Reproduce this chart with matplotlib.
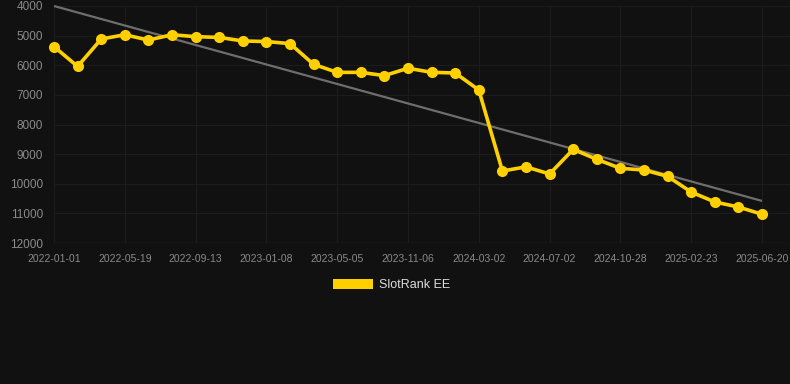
import matplotlib
matplotlib.use("Agg")
import matplotlib.pyplot as plt
from matplotlib.patches import Rectangle

# Data (category axis: 31 equally spaced observations, every 3rd labelled)
tick_labels = ["2022-01-01", "2022-05-19", "2022-09-13", "2023-01-08", "2023-05-05",
               "2023-11-06", "2024-03-02", "2024-07-02", "2024-10-28", "2025-02-23",
               "2025-06-20"]
rank_values = [5370, 6040, 5115, 4970, 5150, 4970, 5035, 5060, 5180, 5200,
               5270, 5970, 6240, 6240, 6350, 6100, 6240, 6260, 6835, 9570,
               9430, 9670, 8840, 9175, 9480, 9535, 9750, 10280, 10615, 10785,
               11030]
trend_values = [4000, 10580]  # trend line at first and last observation
series_name = "SlotRank EE"

W, H = 790, 384
fig = plt.figure(figsize=(W / 100, H / 100), dpi=100)
bg = "#111111"
fig.patch.set_facecolor(bg)

left = 54 / W
right_px = 790
ax = fig.add_axes([left, 1 - 243 / H, (right_px - 54) / W, (243 - 6) / H])
ax.set_facecolor(bg)

n = len(rank_values)
x = list(range(n))
last = n - 1
ax.set_xlim(0, last * (right_px - 54) / (762 - 54))
ax.set_ylim(12000, 4000)

ax.plot([0, last], trend_values, color="#6e6e6e", lw=1.6, zorder=2,
        solid_capstyle="butt", clip_on=False)
ax.plot(x, rank_values, color="#FFD000", lw=2.6, marker="o", ms=8,
        markeredgewidth=0, zorder=3, clip_on=False)

tick_pos = list(range(0, n, 3))
ax.set_xticks(tick_pos)
ax.set_xticklabels(tick_labels)
ax.set_yticks(range(4000, 12001, 1000))
ax.set_yticklabels([str(v) for v in range(4000, 12001, 1000)])

font = "Liberation Sans"
ax.tick_params(axis="y", length=0, pad=8, labelsize=8.5, labelcolor="#8a8a8a")
ax.tick_params(axis="x", length=0, pad=8, labelsize=7.5, labelcolor="#8a8a8a")
for lab in ax.get_xticklabels() + ax.get_yticklabels():
    lab.set_fontfamily(font)

ax.grid(True, color="#1c1c1c", lw=0.8)
for s in ax.spines.values():
    s.set_visible(False)
ax.axhline(12000, color="#262626", lw=1, zorder=1)

# Legend
fig.patches.append(Rectangle((333 / W, 1 - 289 / H), 40 / W, 10 / H,
                             transform=fig.transFigure, facecolor="#FFD000",
                             edgecolor="none"))
fig.text(379 / W, 1 - 284.5 / H, series_name, color="#dddddd", fontsize=9,
         fontfamily=font, va="center", ha="left")

fig.savefig("out.png", dpi=100, facecolor=bg)
